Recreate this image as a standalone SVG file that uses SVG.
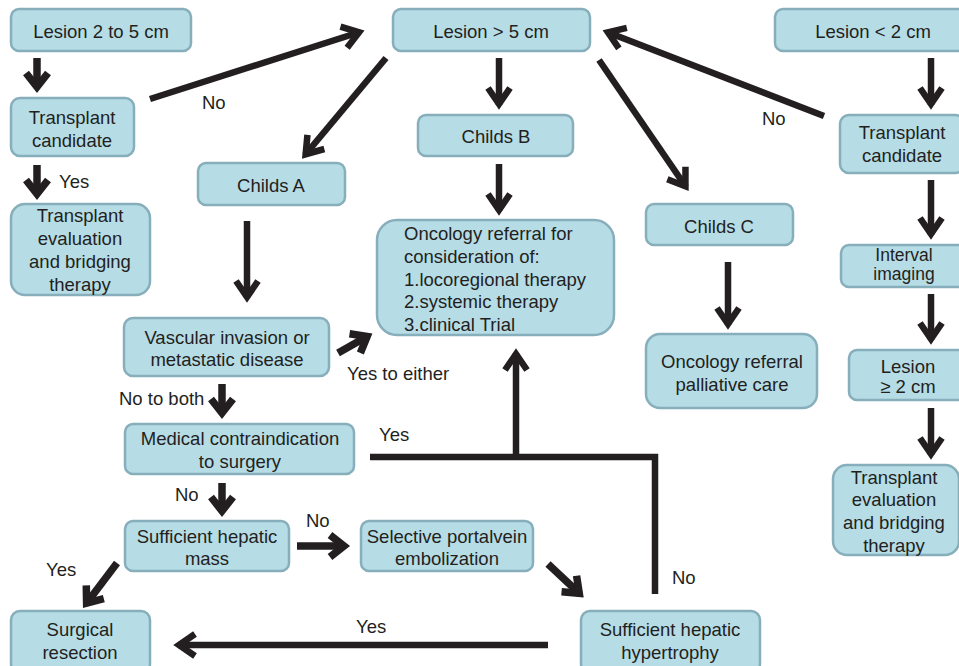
<svg xmlns="http://www.w3.org/2000/svg" width="959" height="666" viewBox="0 0 959 666">
<style>
.box{fill:#b6dce6;stroke:#86aebb;stroke-width:2.5}
text{font-family:"Liberation Sans",Arial,sans-serif;font-size:18.5px;fill:#231f20}
.c{text-anchor:middle}
.ln{fill:none;stroke:#231f20;stroke-width:6.5;stroke-linejoin:miter}
.ar{fill:none;stroke:#231f20;stroke-width:6.5;marker-end:url(#ah)}
.sh{fill:none;stroke:#231f20;stroke-width:7.5;marker-end:url(#ah2)}
</style>
<defs>
<marker id="ah" markerUnits="userSpaceOnUse" viewBox="-25 -18 30 36" markerWidth="30" markerHeight="36" refX="0" refY="0" orient="auto" overflow="visible">
<path d="M-17,-11 L-1,0 L-17,11" fill="none" stroke="#231f20" stroke-width="6.5" stroke-linejoin="miter"/>
</marker>
<marker id="ah2" markerUnits="userSpaceOnUse" viewBox="-25 -18 30 36" markerWidth="30" markerHeight="36" refX="0" refY="0" orient="auto" overflow="visible">
<path d="M-15,-11 L-1,0 L-15,11" fill="none" stroke="#231f20" stroke-width="7.5" stroke-linejoin="miter"/>
</marker>
</defs>

<g id="connectors">
<line class="sh" x1="37" y1="58" x2="37" y2="88"/>
<line class="sh" x1="37" y1="165" x2="37" y2="195"/>
<line class="ar" x1="150" y1="99" x2="360" y2="32"/>
<line class="ar" x1="386" y1="58" x2="305" y2="155"/>
<line class="ar" x1="499" y1="58" x2="499" y2="105"/>
<line class="ar" x1="599" y1="60" x2="686" y2="187"/>
<line class="ar" x1="824" y1="116" x2="607" y2="32"/>
<line class="ar" x1="931" y1="58" x2="931" y2="105"/>
<line class="ar" x1="931" y1="180" x2="931" y2="235"/>
<line class="ar" x1="931" y1="294" x2="931" y2="340"/>
<line class="ar" x1="931" y1="408" x2="931" y2="455"/>
<line class="ar" x1="499" y1="164" x2="499" y2="211"/>
<line class="ar" x1="247" y1="221" x2="247" y2="298"/>
<line class="ar" x1="728" y1="262" x2="728" y2="325"/>
<line class="sh" x1="338" y1="353" x2="368" y2="336"/>
<line class="sh" x1="222" y1="384" x2="222" y2="414"/>
<line class="sh" x1="222" y1="483" x2="222" y2="512"/>
<polyline class="ln" points="370,457 655,457 655,594"/>
<line class="ar" x1="516" y1="457" x2="516" y2="353"/>
<line class="sh" x1="117" y1="563" x2="86" y2="604"/>
<line class="sh" x1="297" y1="546" x2="345" y2="546"/>
<line class="sh" x1="548" y1="564" x2="580" y2="594"/>
<line class="ar" x1="548" y1="645" x2="178" y2="645"/>
<text x="202" y="109">No</text>
<text x="59" y="188">Yes</text>
<text x="762" y="125">No</text>
<text x="347" y="380">Yes to either</text>
<text x="119" y="405">No to both</text>
<text x="379" y="441">Yes</text>
<text x="175" y="501">No</text>
<text x="306" y="527">No</text>
<text x="46" y="576">Yes</text>
<text x="672" y="584">No</text>
<text x="356" y="633">Yes</text>
</g>

<g id="lesion25"><rect class="box" x="11" y="9" width="180" height="42" rx="8"/><text class="c" x="101" y="37.5">Lesion 2 to 5 cm</text></g>
<g id="tcLeft"><rect class="box" x="11" y="98" width="123" height="58" rx="9"/><text class="c" x="72" y="123.5">Transplant</text><text class="c" x="72" y="146.5">candidate</text></g>
<g id="teLeft"><rect class="box" x="11" y="204" width="139" height="91" rx="14"/><text class="c" x="80" y="221.5">Transplant</text><text class="c" x="80" y="244.5">evaluation</text><text class="c" x="80" y="267.5">and bridging</text><text class="c" x="80" y="290.5">therapy</text></g>
<g id="lesion5"><rect class="box" x="393" y="9" width="197" height="42" rx="8"/><text class="c" x="491" y="37.5">Lesion &gt; 5 cm</text></g>
<g id="childsA"><rect class="box" x="198" y="163" width="147" height="42" rx="8"/><text class="c" x="271" y="191.5">Childs A</text></g>
<g id="childsB"><rect class="box" x="418" y="115" width="155" height="41" rx="8"/><text class="c" x="496" y="142.5">Childs B</text></g>
<g id="oncology"><rect class="box" x="377" y="220" width="237" height="115" rx="20"/><text x="404" y="239.5">Oncology referral for</text><text x="404" y="262.5">consideration of:</text><text x="404" y="285.5">1.locoregional therapy</text><text x="404" y="307.5">2.systemic therapy</text><text x="404" y="330.5">3.clinical Trial</text></g>
<g id="childsC"><rect class="box" x="646" y="204" width="147" height="41" rx="8"/><text class="c" x="719" y="232.5">Childs C</text></g>
<g id="lesion2"><rect class="box" x="775" y="9" width="192" height="42" rx="8"/><text class="c" x="873" y="37.5">Lesion &lt; 2 cm</text></g>
<g id="tcRight"><rect class="box" x="840" y="115" width="124" height="58" rx="9"/><text class="c" x="902" y="138.5">Transplant</text><text class="c" x="902" y="161.5">candidate</text></g>
<g id="interval"><rect class="box" x="841" y="245" width="126" height="42" rx="8"/><text class="c" x="904" y="261" style="font-size:17.5px">Interval</text><text class="c" x="904" y="280" style="font-size:17.5px">imaging</text></g>
<g id="lesionGe2"><rect class="box" x="849" y="350" width="118" height="50" rx="8"/><text class="c" x="908" y="372.5">Lesion</text><text class="c" x="908" y="392.5">≥ 2 cm</text></g>
<g id="teRight"><rect class="box" x="833" y="465" width="126" height="90" rx="14"/><text class="c" x="894" y="483.5">Transplant</text><text class="c" x="894" y="505.5">evaluation</text><text class="c" x="894" y="528.5">and bridging</text><text class="c" x="894" y="551.5">therapy</text></g>
<g id="palliative"><rect class="box" x="646" y="334" width="171" height="74" rx="14"/><text class="c" x="732" y="367.5">Oncology referral</text><text class="c" x="732" y="390.5">palliative care</text></g>
<g id="vascular"><rect class="box" x="124" y="318" width="205" height="58" rx="9"/><text class="c" x="227" y="343.5">Vascular invasion or</text><text class="c" x="227" y="365.5">metastatic disease</text></g>
<g id="medical"><rect class="box" x="125" y="424" width="229" height="50" rx="8"/><text class="c" x="240" y="444.5">Medical contraindication</text><text class="c" x="240" y="467.5">to surgery</text></g>
<g id="mass"><rect class="box" x="125" y="521" width="164" height="50" rx="8"/><text class="c" x="207" y="542.5">Sufficient hepatic</text><text class="c" x="207" y="564.5">mass</text></g>
<g id="embolization"><rect class="box" x="361" y="521" width="172" height="50" rx="8"/><text class="c" x="447" y="542.5">Selective portalvein</text><text class="c" x="447" y="564.5">embolization</text></g>
<g id="surgical"><rect class="box" x="11" y="611" width="139" height="62" rx="9"/><text class="c" x="80" y="635.5">Surgical</text><text class="c" x="80" y="658.5">resection</text></g>
<g id="hypertrophy"><rect class="box" x="581" y="611" width="179" height="62" rx="9"/><text class="c" x="670" y="635.5">Sufficient hepatic</text><text class="c" x="670" y="658.5">hypertrophy</text></g>
</svg>
